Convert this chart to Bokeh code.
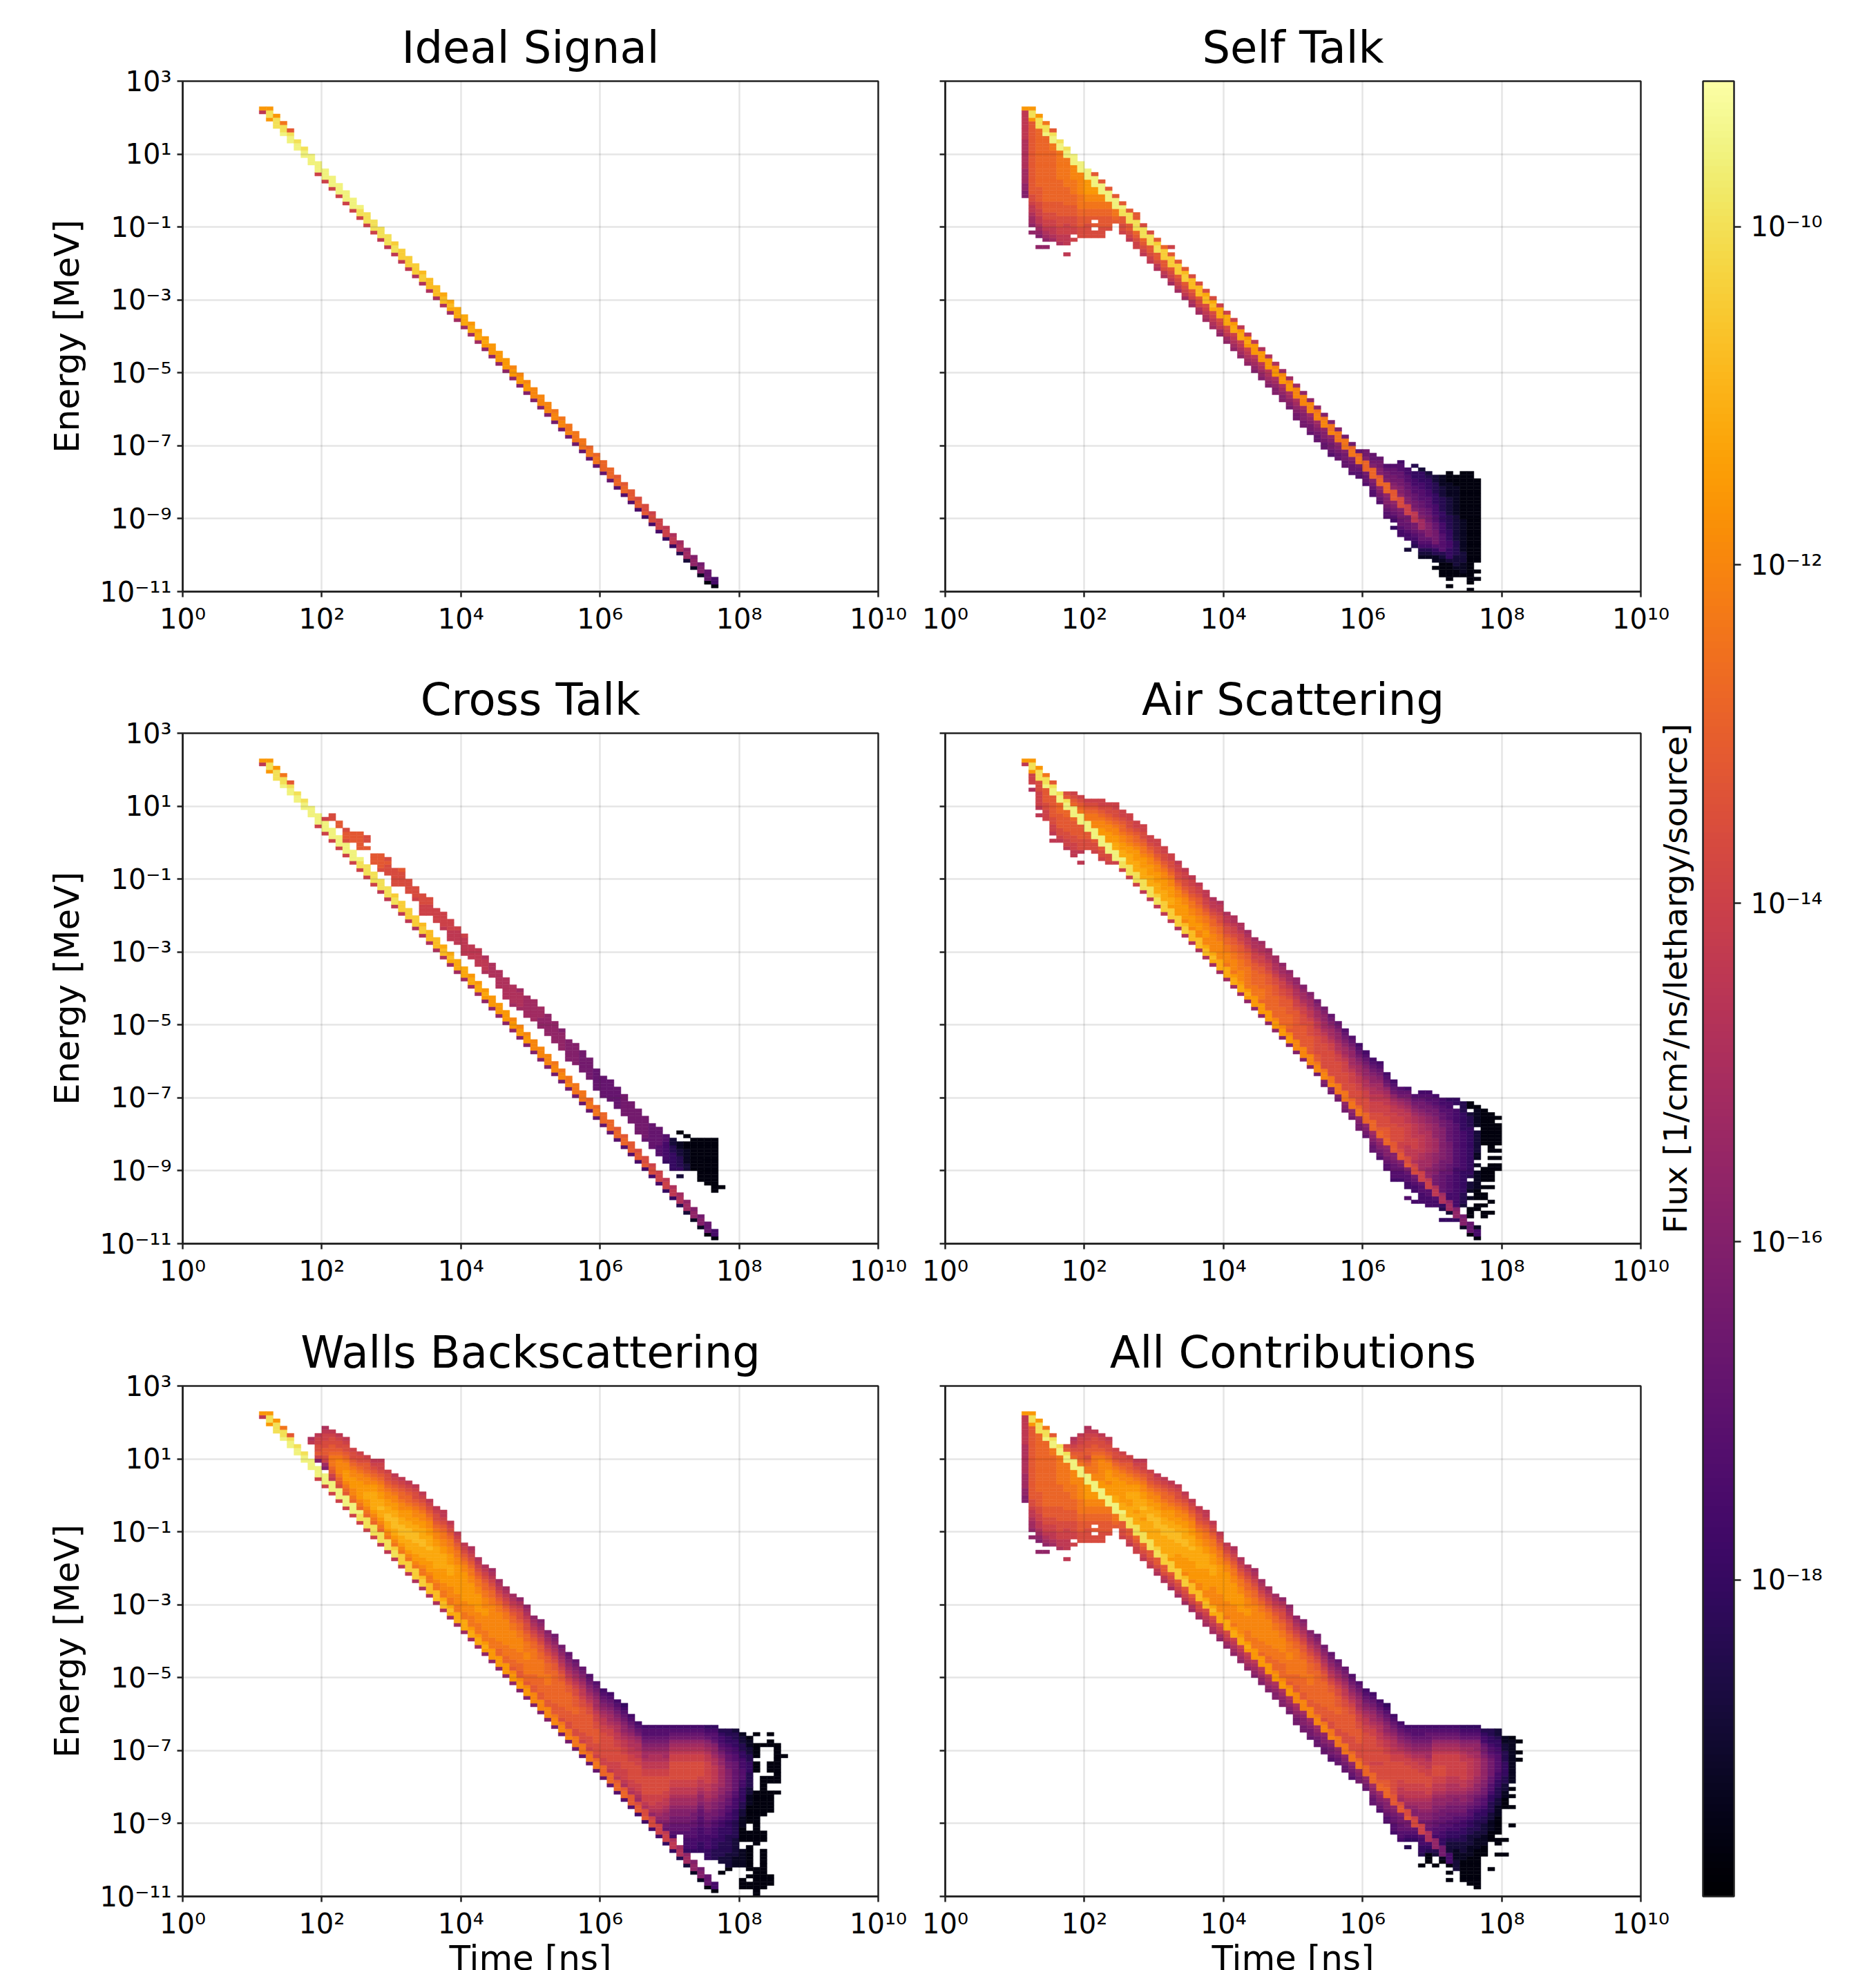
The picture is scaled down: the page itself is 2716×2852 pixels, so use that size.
from bokeh.plotting import figure
from bokeh.models import (ColumnDataSource, LogColorMapper, ColorBar, FixedTicker, CustomJSTickFormatter, LinearAxis)
from bokeh.palettes import Inferno256
from bokeh.layouts import row, column
from bokeh.embed import file_html
from bokeh.resources import INLINE

titles = ["Ideal Signal", "Self Talk", "Cross Talk", "Air Scattering", "Walls Backscattering", "All Contributions"]
x_ticks_exp = [0, 2, 4, 6, 8, 10]
y_ticks_exp = [-11, -9, -7, -5, -3, -1, 1, 3]
cb_ticks_exp = [-18, -16, -14, -12, -10]
FLUX_LOW, FLUX_HIGH = 10 ** -19.87, 10 ** -9.14

# letters a..z = log10(flux) from -19.6 in steps of 0.4; column/row = 0.1 decade bins
first_col = 11
ridge_top = [132,132,130,128,126,123,121,119,117,115,113,111,109,107,105,103,101,99,97,
             95,93,91,89,87,85,83,81,79,77,75,73,71,69,67,65,63,61,59,57,
             55,53,51,49,47,45,43,41,39,37,35,33,31,29,27,25,23,21,19,17,
             15,13,11,9,7,5,3]
ridge_codes = ["un","uyyu","uyyy","syyz","qyzz","yzz","yzz","zzz","zzzo","zzzo","zzzo","zzzo","zzzo","zzzo",
 "zyyo","yyyo","yyyo","yyyn","yyyn","xyyn","xxxn","xxxn","xxxm","wxxm","wwwm","wwwm","vwwm","vwvl","vvvl","vvvl",
 "uvvl","uvvl","uvuk","uuuk","uuuk","uuuk","tuuk","tuuj","tuuj","tttj","tttj","tttj","stti","stti","ssti","sssi",
 "sssh","rssh","rssh","rrrh","rrrh","qrrg","qrrg","qqqg","pqqf","ppqf","oppf","ooof","nooe","mnne","lmmd","kllc",
 "jkkb","ijjb","hhha","ffa","e"]

self_cols = [
 (11,131,"nnnnnnnnmmmmmmmmllllkkjj"),(12,128,"qqqqqqqqqqqqqqqqqqqqpponnmllk"),(12,98,"k"),
 (13,126,"rrrrrrrrrrrrrrrrqqqqppoonnmlkj"),(13,94,"k"),(14,124,"rrrrrrrrrrrrrrrrrrqqqppoonmlk"),(14,94,"k"),
 (15,122,"ssrrrrrrrrrrrrrrqqqppoonnml"),(16,120,"ssssssssrrrrrrqqqqpppoonnm"),(17,118,"ssssssssrrrrrqqqppooonnn"),(17,92,"n"),
 (18,116,"ttttssssrrrqqqpppoo.o"),(19,114,"ttttttssssrrqqqppp"),(20,112,"uuuuttssrrqqpppp"),(21,110,"uuttssrrq.q.pp"),
 (22,108,"ttssrrqqqppp"),(23,106,"ssrrqqqp"),(24,104,"ssrq"),(25,102,"qqppo"),(26,100,"qqpon"),(27,98,"rqpoo"),(28,96,"rqpon"),(29,94,"qqpon"),
 (21,114,"q"),(22,112,"q"),(23,110,"q"),(24,108,"q"),(25,106,"q"),(26,104,"q"),(27,103,"qq"),(28,100,"p"),(29,98,"p"),
 (30,96,"q...qqpnm"),(31,94,"r...qqpnm"),(32,94,"o"),(32,92,"q...qponl"),(33,90,"q...qponl"),(34,88,"q...qponl"),(35,86,"p...qpoml"),
 (36,84,"p...qpoml"),(37,82,"p...ponml"),(38,80,"p...ponml"),(39,78,"o...ponlk"),(40,76,"o...ponlk"),(41,74,"o...onmlk"),
 (42,72,"n...onmlk"),(43,70,"n...onmlk"),(44,68,"n...nmlkj"),(45,66,"m...nmlkj"),(46,64,"m...nmlkj"),(47,62,"m...mlkjj"),
 (48,60,"l...mlkjj"),(49,58,"l...mlkji"),(50,56,"l...mlkjii"),(51,54,"k...lkjjii"),(52,52,"k...lkjiih"),(53,50,"k...lkjihh"),
 (54,48,"j...kjjihh"),(55,46,"j...kjiihg"),(56,44,"j...kjihh"),(57,42,"i...jiihh"),(58,40,"i...jihhg"),(59,38,"h...ihgg"),
 (60,38,"iij...ihhg"),(61,37,"hhij...jihgg"),(62,36,"hiijj...kjihg"),(63,34,"ghiij...kjjihgg"),(64,34,"ghhiijk...kjihgf"),(64,17,"e"),
 (65,35,"fgghhiijjk...jiihhgff"),(66,33,"ffgghhiijj...iihhgff"),(66,11,"c"),(67,34,"d"),(67,32,"eeffgghhiij...iihgfed"),
 (68,33,"ceeeffggghhiij...ihhgfdcb"),(69,32,"cdeeeffggghhiij...hgfdcb"),(70,31,"ccdddeeefffgghhi...gedbb"),(70,6,"a"),
 (71,31,"bbbcccddddeeefffgg...dcbaaaa"),(72,32,"a"),(72,31,"aabbbbcccccddddeeeff...caaaaa"),(72,1,"a"),
 (73,31,"aaabbbbbbbbcccccccdddd...aaa"),(74,32,"aaaaaaaaaaaaabbbbbbbbbccc...a"),(75,32,"aaaaaaaaaaaaaaaaaaaaaaaaaaaaaaa"),(75,0,"a"),
 (76,30,"aaaaaaaaaaaaaaaaaaaaaaa"),(76,5,"a"),(76,3,"a"),
 (63,29,"rrrj"),(64,27,"qqqi"),(65,25,"pppi"),(66,23,"oooi"),(67,21,"nnnh"),(68,19,"lllg"),(69,17,"jjjf"),(70,15,"iiie"),(71,13,"gggd"),(72,11,"eeec"),(73,9,"cccb"),(74,7,"bbba"),(75,5,"aaaa"),
]

cross_cols = [
 (19,116,"p"),(20,116,"o"),(21,117,"pp"),(22,115,"qq"),(23,113,"pqqp"),(24,112,"qqq"),(25,112,"qqqqq"),(26,111,"pp"),(26,108,"q"),
 (27,106,"qqq"),(28,106,"qqqqp"),(29,105,"pqppp"),(30,102,"ppppp"),(31,102,"qpppp"),(32,99,"pppp"),(33,97,"pppo"),(34,95,"pppooo"),
 (35,94,"ppooo"),(36,91,"oooo"),(37,90,"oooon"),(38,88,"ooonnn"),(39,86,"onnnn"),(40,84,"onnnnn"),(41,81,"nnnn"),(42,80,"nnnnn"),
 (43,78,"mnnnm"),(44,76,"mmmm"),(45,74,"mmmmm"),(46,72,"mmmmmm"),(47,70,"mmmmml"),(48,69,"lmmmml"),(49,67,"llllll"),(50,66,"llllll"),
 (51,64,"lllkkk"),(52,62,"kkkkkk"),(53,60,"kkkkkk"),(54,58,"jkkkkk"),(55,55,"jjjjjj"),(56,54,"jjjjjj"),(57,52,"iiiiii"),(58,50,"iiiiii"),
 (59,47,"hhhhhh"),(60,45,"hhhhhh"),(61,44,"hhhhhh"),(62,42,"hhhhhh"),(63,40,"iiiiii"),(64,38,"iiiiii"),(65,36,"iiiiiii"),(66,34,"iiiiiih"),
 (67,32,"hhhhhhh"),(68,31,"hhhhhggg"),(69,29,"ggfffffe"),(70,28,"ccddeeeee"),(71,30,"a"),(71,27,"bbccddde"),(71,18,"c"),(72,29,"a"),
 (72,27,"aabbbbcc"),(73,28,"aaaaaaaaa"),(74,28,"aaaaaaaaaaaa"),(75,28,"aaaaaaaaaaaaa"),(76,28,"aaaaaaaaaaaaaaa"),(77,15,"a"),
]

air_cols = [
 (12,128,"ooo"),(12,124,"m"),(13,126,"pppoooon"),(13,117,"n"),(14,124,"qqqqppooo"),(15,122,"qqqqqqppoon"),(15,110,"n"),
 (16,120,"rrrqqqqppon"),(17,118,"rrqqqqppoon"),(18,116,"rqqqqppoonn"),(19,114,"qqqqpppn"),(19,104,"n"),(20,112,"qqppp"),
 (21,110,"qpp"),(21,107,"o"),(22,108,"qppo"),(23,106,"ppo"),
 (17,123,"pq..."),(18,123,"opqr..."),(19,122,"opqrs..."),(20,121,"opqrss..."),(21,121,"opqrsstt..."),(22,121,"oopqrsttuu..."),
 (23,120,"oppqrsttuuu..."),(24,120,"ooppqrsttuuvv..."),(25,118,"oopqrrsttuuvv..."),(26,117,"ooppqrsstuuvvv..."),(27,115,"oopqrrstuuuvvv..."),
 (28,114,"ooppqrsstuuuvvv..."),(29,111,"oopqrsttuuuvvv..."),(30,110,"ooppqrsttuuuvvv..."),(31,108,"ooppqrsttuuuvvv..."),(32,106,"ooppqrsttuuuvvu..."),
 (33,104,"nooppqrsttuuuuu..."),(34,102,"nooppqrsttuuuut..."),(35,100,"nooppqrssttuuut..."),(36,98,"noopqqrssttuutt..."),(37,96,"nnoopqrssttuutt..."),
 (38,94,"mnnopqrrssttttt..."),(39,93,"mnnoppqrrssttttt..."),(40,91,"mnnoppqrrssttts..."),(41,89,"mmnoopqqrrssttts..."),(42,87,"mmnoopqqrrsssttt..."),
 (43,85,"lmnnopqqrrssssss..."),(44,83,"lmmnoopqqrrrrsss..."),(45,82,"lmmnoopqqrrrrsssr..."),(46,80,"lmmnoopqqqrrrrrrr..."),(47,78,"llmmnoppqqqrrrrrr..."),
 (48,76,"kllmnooppqqqrrrrr..."),(49,74,"kllmnoopqqqqrrrrq..."),(50,72,"kklmmnoopqqqqqqqq..."),(51,70,"jkllmnoopppqqqqqq..."),(52,68,"jkllmnnoppppqqqqq..."),
 (53,66,"ijkllmnnoopppppqq..."),(54,64,"ijkkllmnooppppppp...ji"),(55,62,"hijkllmnooppppppp...ji"),(56,60,"hijkklmmnoopppppp...ji"),(57,58,"ghijkllmnoooppppp...kji"),
 (58,56,"ghijkkllmnooopppp...kji"),(59,54,"fghijkllmnnoopppp...kjii"),(60,52,"fghijkklmmnoopppp...kjih"),(61,50,"fghijkklmmnnooopp...lkjihh"),
 (62,49,"fghijkllmnnooopppp...lkjihg"),(63,46,"fghiklmnnooopppqq...kjjihgg"),(64,44,"fghiklmnnoooppppp...jjihhggf"),(65,42,"ghiklmnnoooppppoo...jihggf"),
 (66,42,"fhijklmnnnoooooonnn...jhggff"),(66,12,"g"),(67,40,"ghijklmmnnnnooonnnm...ihgff"),(67,11,"f"),(68,41,"fghiijkllmmmnnnnnmmlll...hggfff"),
 (69,41,"fgghiijkkllmmmmmmllllkkk...ggfff"),(70,40,"fgghiijjkkkkllllkkkjjjiii...gff"),(71,39,"ffgghhiijjjjjjjjjiiihhhhhh...ed"),(71,6,"e"),
 (72,39,"effggghhhhhhiiiiiihhhgggggff..."),(72,6,"e"),(73,39,"ee.ffffggggggggggggfffffffffff..."),(73,6,"e"),(74,38,"dddeeeeefffffffffffeeeeeedddc"),(74,6,"d"),
 (75,38,"aa.cdddeeeeeeeeeeeeed.ccb.b..aaa"),(75,5,"ddd"),(76,37,"abbbbb.ccccccbb.b.bbbbbaaa"),(76,10,"aa"),(76,4,"bb"),
 (77,36,"aaaaaaaaaa"),(77,20,"aaaa"),(77,15,"a"),(77,13,"aa"),(77,10,"a"),(77,8,"aa"),
 (78,35,"aaaaaaaaa"),(78,26,"aa"),(78,23,"a"),(78,21,"aaaaa"),(78,15,"a"),(78,11,"a"),(78,8,"a"),
 (79,34,"a"),(79,32,"aaaaaa"),(79,25,"a"),(79,23,"a"),(79,21,"aa"),
]

walls_cols = [
 (18,125,"mn"),(19,126,"nooppqoj"),(20,128,"mnooppqqpolj"),(21,127,"noppqqrsssrqon..."),(22,126,"noppqrsttttsrqp..."),(23,125,"noppqrsttuuutsrq..."),
 (24,122,"oppqrsttuuuttsr..."),(25,121,"oppqrsttuuuuutsr..."),(26,120,"opqqrsttuuvvuutsr..."),(27,119,"nopqrstuuvvvvvutsr..."),(28,119,"noopqrsttuuvvwvvutsr..."),
 (29,116,"oppqrsttuuvvwwvvuts..."),(30,115,"nopqrsttuuvvwwwvvuts..."),(31,114,"nopqrrsttuuvvwwwvvuts..."),(32,113,"nopqrrstuuuvvwwwvvvuts..."),(33,112,"noppqrsttuuvvwwwvvvuuts..."),
 (34,110,"nopqrsttuuvvvwwvvvuutss..."),(35,108,"nopqrsttuuvvvwvvvuuutss..."),(36,106,"noppqrsttuuvvvvvvuuutss..."),(37,105,"nnopqrssttuuvvvvuuuuttss..."),(38,102,"nopqrssttuuuvvvuuutttss..."),
 (39,99,"nopqrssttuuuuuuuutttss..."),(40,96,"nopqrsttuuuuuuuutttss..."),(41,95,"mnopqrssttuuuuuutttsss..."),(42,92,"mnopqrssttuuuuutttsss..."),(43,90,"mnopqrrsstttuuttttsss..."),
 (44,89,"lmnopqrrsstttttttttsss..."),(45,86,"lmnopqrssttttttttssrr..."),(46,84,"lmnopqrsstttttttsssrr..."),(47,82,"lmnopqrrsstttttsssrrq..."),(48,81,"kmnoppqrrssttttsssrrqq..."),
 (49,79,"klmnoppqrrsssttssssrrq..."),(50,76,"klmnopqrrsssssssrrrqq..."),(51,75,"jklmnopqqrrsssssrrrrqq..."),(52,72,"jklmnopqqrrrsssrrrrqq..."),(53,71,"ijklmnopqqrrrrrrrrrqqq..."),
 (54,68,"ijklmnopqqrrrrrrrqqqp..."),(55,66,"hijklmnopqqrrrrrqqqpp..."),(56,64,"hijklmnoppqqqrrqqqqpp..."),(57,62,"hijklmnnoppqqqqqqqppo..."),(58,60,"ghijklmnoppqqqqqqpppo..."),
 (59,58,"ghijkllmnooppqqqqpppo..."),(60,56,"fghijklmnnoopppppppoo..."),(61,55,"fghijkllmnoopppppppoon..."),(62,53,"fghijklmmnnooppppoooon..."),(63,52,"efghijkklmnnooppppooonm..."),
 (64,49,"fghijklmmnnoopppppoonm..."),(65,47,"fghiklmmnnoopppppoonml..."),(66,46,"fgghijkllmnnoopppppoonm..."),(67,46,"fgghijklmmnnoopppppooonmk..."),(68,46,"fgghijklmmnnoopppppoonnmlkj..."),
 (69,46,"fgghijkllmnnooppppoonnmlkkjih..."),(70,46,"fghiklmnoopppppoonnmllkjjiihhgf..."),(71,46,"fghiklmnoopppppoonnmllkjjiihhg"),(72,46,"fghiklmnoopppppoonnmllkjjiihhggfffe..."),
 (73,46,"fghiklmnoopppppoonnmllkjiihhgggfffe"),(74,46,"fghiklmnoopppponnmlkkjihhgggffffeee"),(75,46,"efghjklmnnoooooonnmmlkkjiihhggffffeee"),
 (76,46,"efgghjkklmmnnnnnmmllkjjiihggfffeeeddd"),(77,45,"deffghijkkllllllkkjjiihhgffeeeeddddcc"),(77,6,"a"),(78,45,"ddeefgghhiijjjjjjiihhggffeeeedddddcccc"),(78,7,"a"),
 (79,45,"cddeeffgghhhhhhhhggfffeeedddddcccccbbb"),(80,44,"bccddeefffgggffeeeeddccbbbaa"),(80,17,"aaa"),(80,12,"bbbbb"),(80,4,"aaa"),
 (81,43,"abbccddeeeddddccbbbaaaaa"),(81,17,"aaa"),(81,13,"aaaaaaa"),(81,5,"a"),(81,3,"aa"),(74,4,"a"),
 (82,44,"a"),(82,41,"aaaa"),(82,36,"aaa"),(82,28,"aaaaaaaaaaaaaa"),(82,14,"a"),(82,7,"aaaaaaaa"),
 (83,41,"a"),(83,32,"aaaa"),(83,28,"aaaaaaa"),(83,17,"aaa"),(83,12,"aaaaaaa"),(83,5,"aaaa"),
 (84,44,"a"),(84,42,"aa"),(84,36,"aaa"),(84,32,"aa"),(84,28,"aaaaaa"),(84,5,"aaa"),
 (85,41,"aaaaaaaaa"),(85,32,"aa"),(85,28,"a"),(86,38,"a"),
]

all_tail = [
 (65,47,"fghijklmnoopppppoonnmlkkjjiihhggf"),(66,46,"fghijklmnoopppppoonnmlkkjjiihgfe"),(66,13,"d"),(67,46,"fgghijklmnooppppoonnmlkjjjihhgfe"),
 (68,46,"fgghijklmnnoopppoonnmllkjjiihhgffeed"),(68,8,"a"),(69,46,"fghhijkllmnnoopppoonmllkjjiihhggfed"),(69,11,"aaa"),(70,46,"fghiklmnooopppoonnmlkkjjiihhggffeddc"),(70,8,"a"),
 (71,46,"fghiklmnooopppoonnmlkkjiihhggffeedccba"),(72,46,"fghiklmnoooooonnmmlkkjiihhggfeedcccbbaa"),(72,6,"a"),(72,4,"a"),(73,46,"fghiklmnoooooonnmmlkjjiihggffeedccbbbaa"),
 (74,46,"efghjklmnnooooonnmlkkjiihgffeeddcccbbaaaaaa"),(75,46,"efghjkllmnnnnnnmmlkjjihggfeeddcccbbbaaaaaaaa"),(76,46,"efghjkkllmmmmmllkkjihhgfeedddccbbbaaaaaaaaaaa"),
 (77,45,"deffhiijkkkkkkjjiihggfeeddcccbbbaaa"),(78,45,"ddeefgghiiiiihhggfeedddccbbbaaa"),(78,7,"a"),(79,45,"ccdeeffgggggffeedddccbbbaaaaa"),(79,15,"aa"),(79,11,"a"),
 (80,43,"bbccdddeeeeddccbbaaa"),(80,15,"a"),(80,11,"a"),(81,43,"abbbbbbbbbbbb"),(81,29,"a"),(81,27,"a"),(81,24,"a"),(81,19,"a"),
 (82,42,"a"),(82,39,"a"),(82,37,"a"),
 (69,17,"mmm"),(70,15,"kkk"),(71,13,"iii"),(72,11,"fff"),(73,9,"ccc"),
]

ALPHA = "abcdefghijklmnopqrstuvwxyz"


def put(cells, c, r, ch):
    if ch != "." and r >= 0:
        cells[(c, r)] = max(cells.get((c, r), 0), ALPHA.index(ch))


def add_ridge(cells, last_col=99):
    for i, (top, codes) in enumerate(zip(ridge_top, ridge_codes)):
        if first_col + i <= last_col:
            for k, ch in enumerate(codes):
                put(cells, first_col + i, top - k, ch)


def add_cols(cells, cols):
    for c, top, s in cols:
        if "..." in s:
            up, down = s.split("...")
            rt = ridge_top[c - first_col]
            for k, ch in enumerate(reversed(up)):
                put(cells, c, rt + 1 + k, ch)
            for k, ch in enumerate(down):
                put(cells, c, rt - 3 - k, ch)
        else:
            for k, ch in enumerate(s):
                put(cells, c, top - k, ch)


ideal = {}
add_ridge(ideal)
selfc = {}
add_cols(selfc, self_cols)
add_ridge(selfc, 62)
cross = {}
add_cols(cross, cross_cols)
add_ridge(cross)
air = {}
add_cols(air, air_cols)
add_ridge(air)
walls = {}
add_cols(walls, walls_cols)
add_ridge(walls)
allc = {}
for d in (selfc, cross, air, walls):
    for (c, r), v in d.items():
        if c <= 64:
            allc[(c, r)] = max(allc.get((c, r), 0), v)
add_cols(allc, all_tail)
add_ridge(allc, 68)
panels = [ideal, selfc, cross, air, walls, allc]

mapper = LogColorMapper(palette=Inferno256, low=FLUX_LOW, high=FLUX_HIGH)
tick_js = """
const e = Math.round(Math.log10(tick));
const m = {'-':'\u207b','0':'\u2070','1':'\u00b9','2':'\u00b2','3':'\u00b3','4':'\u2074','5':'\u2075','6':'\u2076','7':'\u2077','8':'\u2078','9':'\u2079'};
return '10' + String(e).split('').map(ch => m[ch]).join('');
"""
FONT = "DejaVu Sans"
TICK_PT = "40px"
LABEL_PT = "50px"
TITLE_PT = "64px"
INK = "#222222"


def make(idx):
    col = idx % 2
    rw = idx // 2
    left = 264 if col == 0 else 47
    right = 50 if col == 0 else 90
    top = 117 if rw == 0 else 100
    bottom = 105 if rw == 0 else (106 if rw == 1 else 107)
    p = figure(frame_width=1007, frame_height=739, x_axis_type="log", y_axis_type="log",
               x_range=(1, 1e10), y_range=(1e-11, 1e3), toolbar_location=None, output_backend="svg",
               min_border_left=left, min_border_right=right, min_border_top=top, min_border_bottom=bottom,
               title=titles[idx])
    p.title.text_font = FONT
    p.title.text_font_size = TITLE_PT
    p.title.text_font_style = "normal"
    p.title.text_color = "black"
    p.title.align = "center"
    p.title.standoff = 24
    cells = panels[idx]
    keys = sorted(cells)
    src = ColumnDataSource(dict(
        left=[10 ** (c / 10) for c, r in keys], right=[10 ** ((c + 1) / 10) for c, r in keys],
        bottom=[10 ** (-11 + r / 10) for c, r in keys], top=[10 ** (-11 + (r + 1) / 10) for c, r in keys],
        flux=[10 ** (-19.6 + 0.4 * cells[k]) for k in keys]))
    colour = {"field": "flux", "transform": mapper}
    p.quad(left="left", right="right", bottom="bottom", top="top", source=src, fill_color=colour,
           line_color=colour, line_width=0.5)
    for g, exps in ((p.xgrid, x_ticks_exp), (p.ygrid, y_ticks_exp)):
        g.grid_line_color = "black"
        g.grid_line_alpha = 0.1
        g.grid_line_width = 2.5
        g.level = "overlay"
        g.ticker = FixedTicker(ticks=[10.0 ** e for e in exps])
    p.xaxis.ticker = FixedTicker(ticks=[10.0 ** e for e in x_ticks_exp])
    p.yaxis.ticker = FixedTicker(ticks=[10.0 ** e for e in y_ticks_exp])
    p.xaxis.formatter = CustomJSTickFormatter(code=tick_js)
    p.yaxis.formatter = CustomJSTickFormatter(code=tick_js if col == 0 else "return '';")
    for ax in (p.xaxis[0], p.yaxis[0]):
        ax.major_label_text_font = FONT
        ax.major_label_text_font_size = TICK_PT
        ax.major_label_text_color = "black"
        ax.major_tick_out = 8
        ax.major_tick_in = 0
        ax.minor_tick_out = 0
        ax.minor_tick_in = 0
        ax.major_tick_line_width = 2.5
        ax.major_tick_line_color = INK
        ax.axis_line_width = 2.5
        ax.axis_line_color = INK
        ax.major_label_standoff = 8
    p.outline_line_color = INK
    p.outline_line_width = 2.5
    p.outline_line_alpha = 1
    if col == 0:
        ax = p.yaxis[0]
        ax.axis_label = "Energy [MeV]"
        ax.axis_label_text_font = FONT
        ax.axis_label_text_font_size = LABEL_PT
        ax.axis_label_text_font_style = "normal"
        ax.axis_label_text_color = "black"
        ax.axis_label_standoff = 15
    if rw == 2:
        ax = p.xaxis[0]
        ax.axis_label = "Time [ns]"
        ax.axis_label_text_font = FONT
        ax.axis_label_text_font_size = LABEL_PT
        ax.axis_label_text_font_style = "normal"
        ax.axis_label_text_color = "black"
        ax.axis_label_text_line_height = 0.6
        ax.axis_label_standoff = -5
    return p


figs = [make(i) for i in range(6)]

cb_fig = figure(frame_width=1, frame_height=2628, toolbar_location=None, output_backend="svg",
                x_range=(0, 1), y_range=(0, 1),
                min_border_left=71, min_border_right=235, min_border_top=117, min_border_bottom=107,
                x_axis_location=None, y_axis_location=None, outline_line_color=None,
                border_fill_color=None, background_fill_color=None, margin=(0, 0, 0, -72),
                styles={"position": "relative", "z-index": "10"})
cb_fig.grid.visible = False
flux_axis = LinearAxis(ticker=FixedTicker(ticks=[]), axis_line_color=None, major_tick_line_color=None, minor_tick_line_color=None,
                       axis_label="\u00a0\u00a0Flux [1/cm\u00b2/ns/lethargy/source]", axis_label_text_font=FONT, axis_label_text_font_size="47px",
                       axis_label_text_font_style="normal", axis_label_text_color="black", axis_label_standoff=12)
cb_fig.add_layout(flux_axis, "left")
cb = ColorBar(color_mapper=mapper, width=45, padding=0, margin=0, ticker=FixedTicker(ticks=[10.0 ** e for e in cb_ticks_exp]),
              formatter=CustomJSTickFormatter(code=tick_js), major_label_text_font=FONT, major_label_text_font_size=TICK_PT,
              major_label_text_color="black", major_tick_out=10, major_tick_in=0, major_tick_line_color=INK, major_tick_line_width=2.5,
              minor_tick_line_color=None, bar_line_color=INK, bar_line_width=2.5, label_standoff=14, border_line_color=None, background_fill_color=None)
cb_fig.add_layout(cb, "right")

root = row(column(row(figs[0], figs[1], spacing=0), row(figs[2], figs[3], spacing=0), row(figs[4], figs[5], spacing=0), spacing=0),
           cb_fig, spacing=0)
open("out.html", "w").write(file_html(root, INLINE))
